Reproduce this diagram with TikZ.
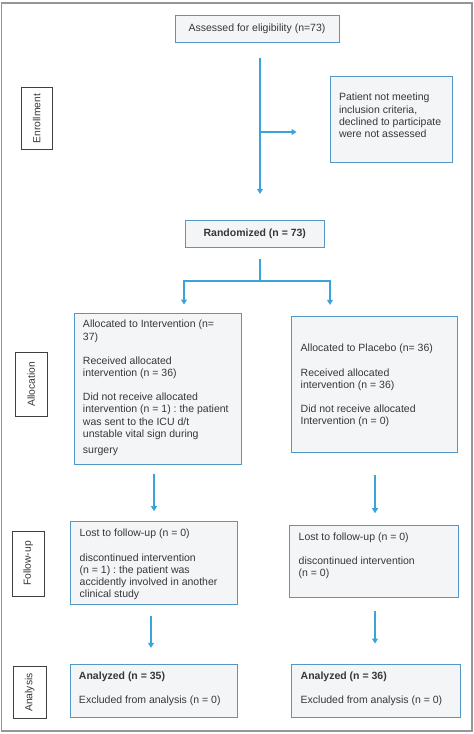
\documentclass[tikz,border=0pt]{standalone}
\usepackage{fontspec}
\setmainfont{Liberation Sans}
\usetikzlibrary{arrows.meta}
\definecolor{boxblue}{RGB}{84,150,196}
\definecolor{boxfill}{RGB}{243,245,246}
\definecolor{arrblue}{RGB}{58,163,217}
\definecolor{txtgray}{RGB}{55,55,55}
\definecolor{framegray}{RGB}{150,150,150}
% #1 box width, #2 box height, #3 top padding, #4 lines
\newcommand\bxt[4]{\parbox[c][#2][t]{#1}{\vspace*{#3}\noindent\begin{tabular}{@{\hspace{9pt}}l@{}}#4\end{tabular}}}
\begin{document}
\frenchspacing
\begin{tikzpicture}[x=1pt,y=-1pt,
  font=\fontsize{10.5}{12.2}\selectfont\frenchspacing, text=txtgray,
  cbox/.style={draw=boxblue, fill=boxfill, line width=1pt, inner sep=0pt},
  lbl/.style={draw=black!75, fill=white, line width=0.9pt, rotate=90, inner sep=0pt,
    font=\fontsize{10.3}{12}\selectfont},
  conn/.style={draw=arrblue, line width=1.1pt},
  arr/.style={conn, -{Triangle[width=6pt,length=5pt]}}]
\useasboundingbox (0,0) rectangle (474,734);
\draw[framegray, line width=1.5pt] (1.5,3) rectangle (472,731);

% stage labels
\node[lbl, minimum width=62pt, minimum height=31pt] (lenr) at (36.8,118.7) {Enrollment};
\node[lbl, minimum width=63.7pt, minimum height=31.3pt] (lall) at (31.3,384.2) {Allocation};
\node[lbl, minimum width=65pt, minimum height=31.3pt] (lfol) at (28.3,563.5) {Follow-up};
\node[lbl, minimum width=51.6pt, minimum height=33.3pt] (lana) at (29.7,692.5) {Analysis};

% boxes
\node[cbox, minimum width=164pt, minimum height=27pt] (assess) at (257,28.5) {Assessed for eligibility (n=73)};
\node[cbox] (excl) at (391,119.2) {\bxt{122pt}{85.7pt}{16pt}{Patient not meeting\\inclusion criteria,\\declined to participate\\were not assessed}};
\node[cbox, minimum width=139pt, minimum height=26.7pt] (rand) at (254.8,233.7) {\textbf{Randomized (n = 73)}};

\node[cbox] (lalloc) at (157.5,388.5) {\bxt{167pt}{151pt}{6.3pt}{Allocated to Intervention (n=\\37)\\[12pt]Received allocated\\intervention (n = 36)\\[12pt]Did not receive allocated\\intervention (n = 1) : the patient\\was sent to the ICU d/t\\unstable vital sign during\\[4pt]surgery}};
\node[cbox] (ralloc) at (374.5,384.2) {\bxt{165.6pt}{135.7pt}{27pt}{Allocated to Placebo (n= 36)\\[12pt]Received allocated\\intervention (n = 36)\\[12pt]Did not receive allocated\\Intervention (n = 0)}};

\node[cbox] (lfu) at (154,563) {\bxt{166.6pt}{82.6pt}{6.6pt}{Lost to follow-up (n = 0)\\[12pt]discontinued intervention\\(n = 1) : the patient was\\accidently involved in another\\clinical study}};
\node[cbox] (rfu) at (374.2,561.7) {\bxt{169pt}{72pt}{6.3pt}{Lost to follow-up (n = 0)\\[12pt]discontinued intervention\\(n = 0)}};

\node[cbox] (lan) at (153.5,690.7) {\bxt{167pt}{52.7pt}{6.4pt}{\textbf{Analyzed (n = 35)}\\[12pt]Excluded from analysis (n = 0)}};
\node[cbox] (ran) at (376,690.5) {\bxt{168.6pt}{53pt}{6.7pt}{\textbf{Analyzed (n = 36)}\\[12pt]Excluded from analysis (n = 0)}};

% connector helper coordinates
\coordinate (spine) at (260,0);
\coordinate (excbr) at (260,132);
\coordinate (split) at (260,281);
\coordinate (lbr) at (184,0);
\coordinate (rbr) at (330,0);
\coordinate (lc1) at (154,0);
\coordinate (lc2) at (151,0);
\coordinate (rc) at (375,0);

\draw[arr, shorten <=15pt, shorten >=26pt] (assess.south -| spine) -- (rand.north -| spine);
\draw[arr, shorten >=33pt] (excbr) -- (excl.west |- excbr);
\draw[conn, shorten <=11pt] (rand.south -| spine) -- (split);
\draw[arr, shorten >=8pt] (split) -| (lalloc.north -| lbr);
\draw[arr, shorten >=11pt] (split) -| (ralloc.north -| rbr);
\draw[arr, shorten <=9pt, shorten >=10pt] (lalloc.south -| lc1) -- (lfu.north -| lc1);
\draw[arr, shorten <=22pt, shorten >=12pt] (ralloc.south -| rc) -- (rfu.north -| rc);
\draw[arr, shorten <=11pt, shorten >=16pt] (lfu.south -| lc2) -- (lan.north -| lc2);
\draw[arr, shorten <=13pt, shorten >=20pt] (rfu.south -| rc) -- (ran.north -| rc);
\end{tikzpicture}
\end{document}
